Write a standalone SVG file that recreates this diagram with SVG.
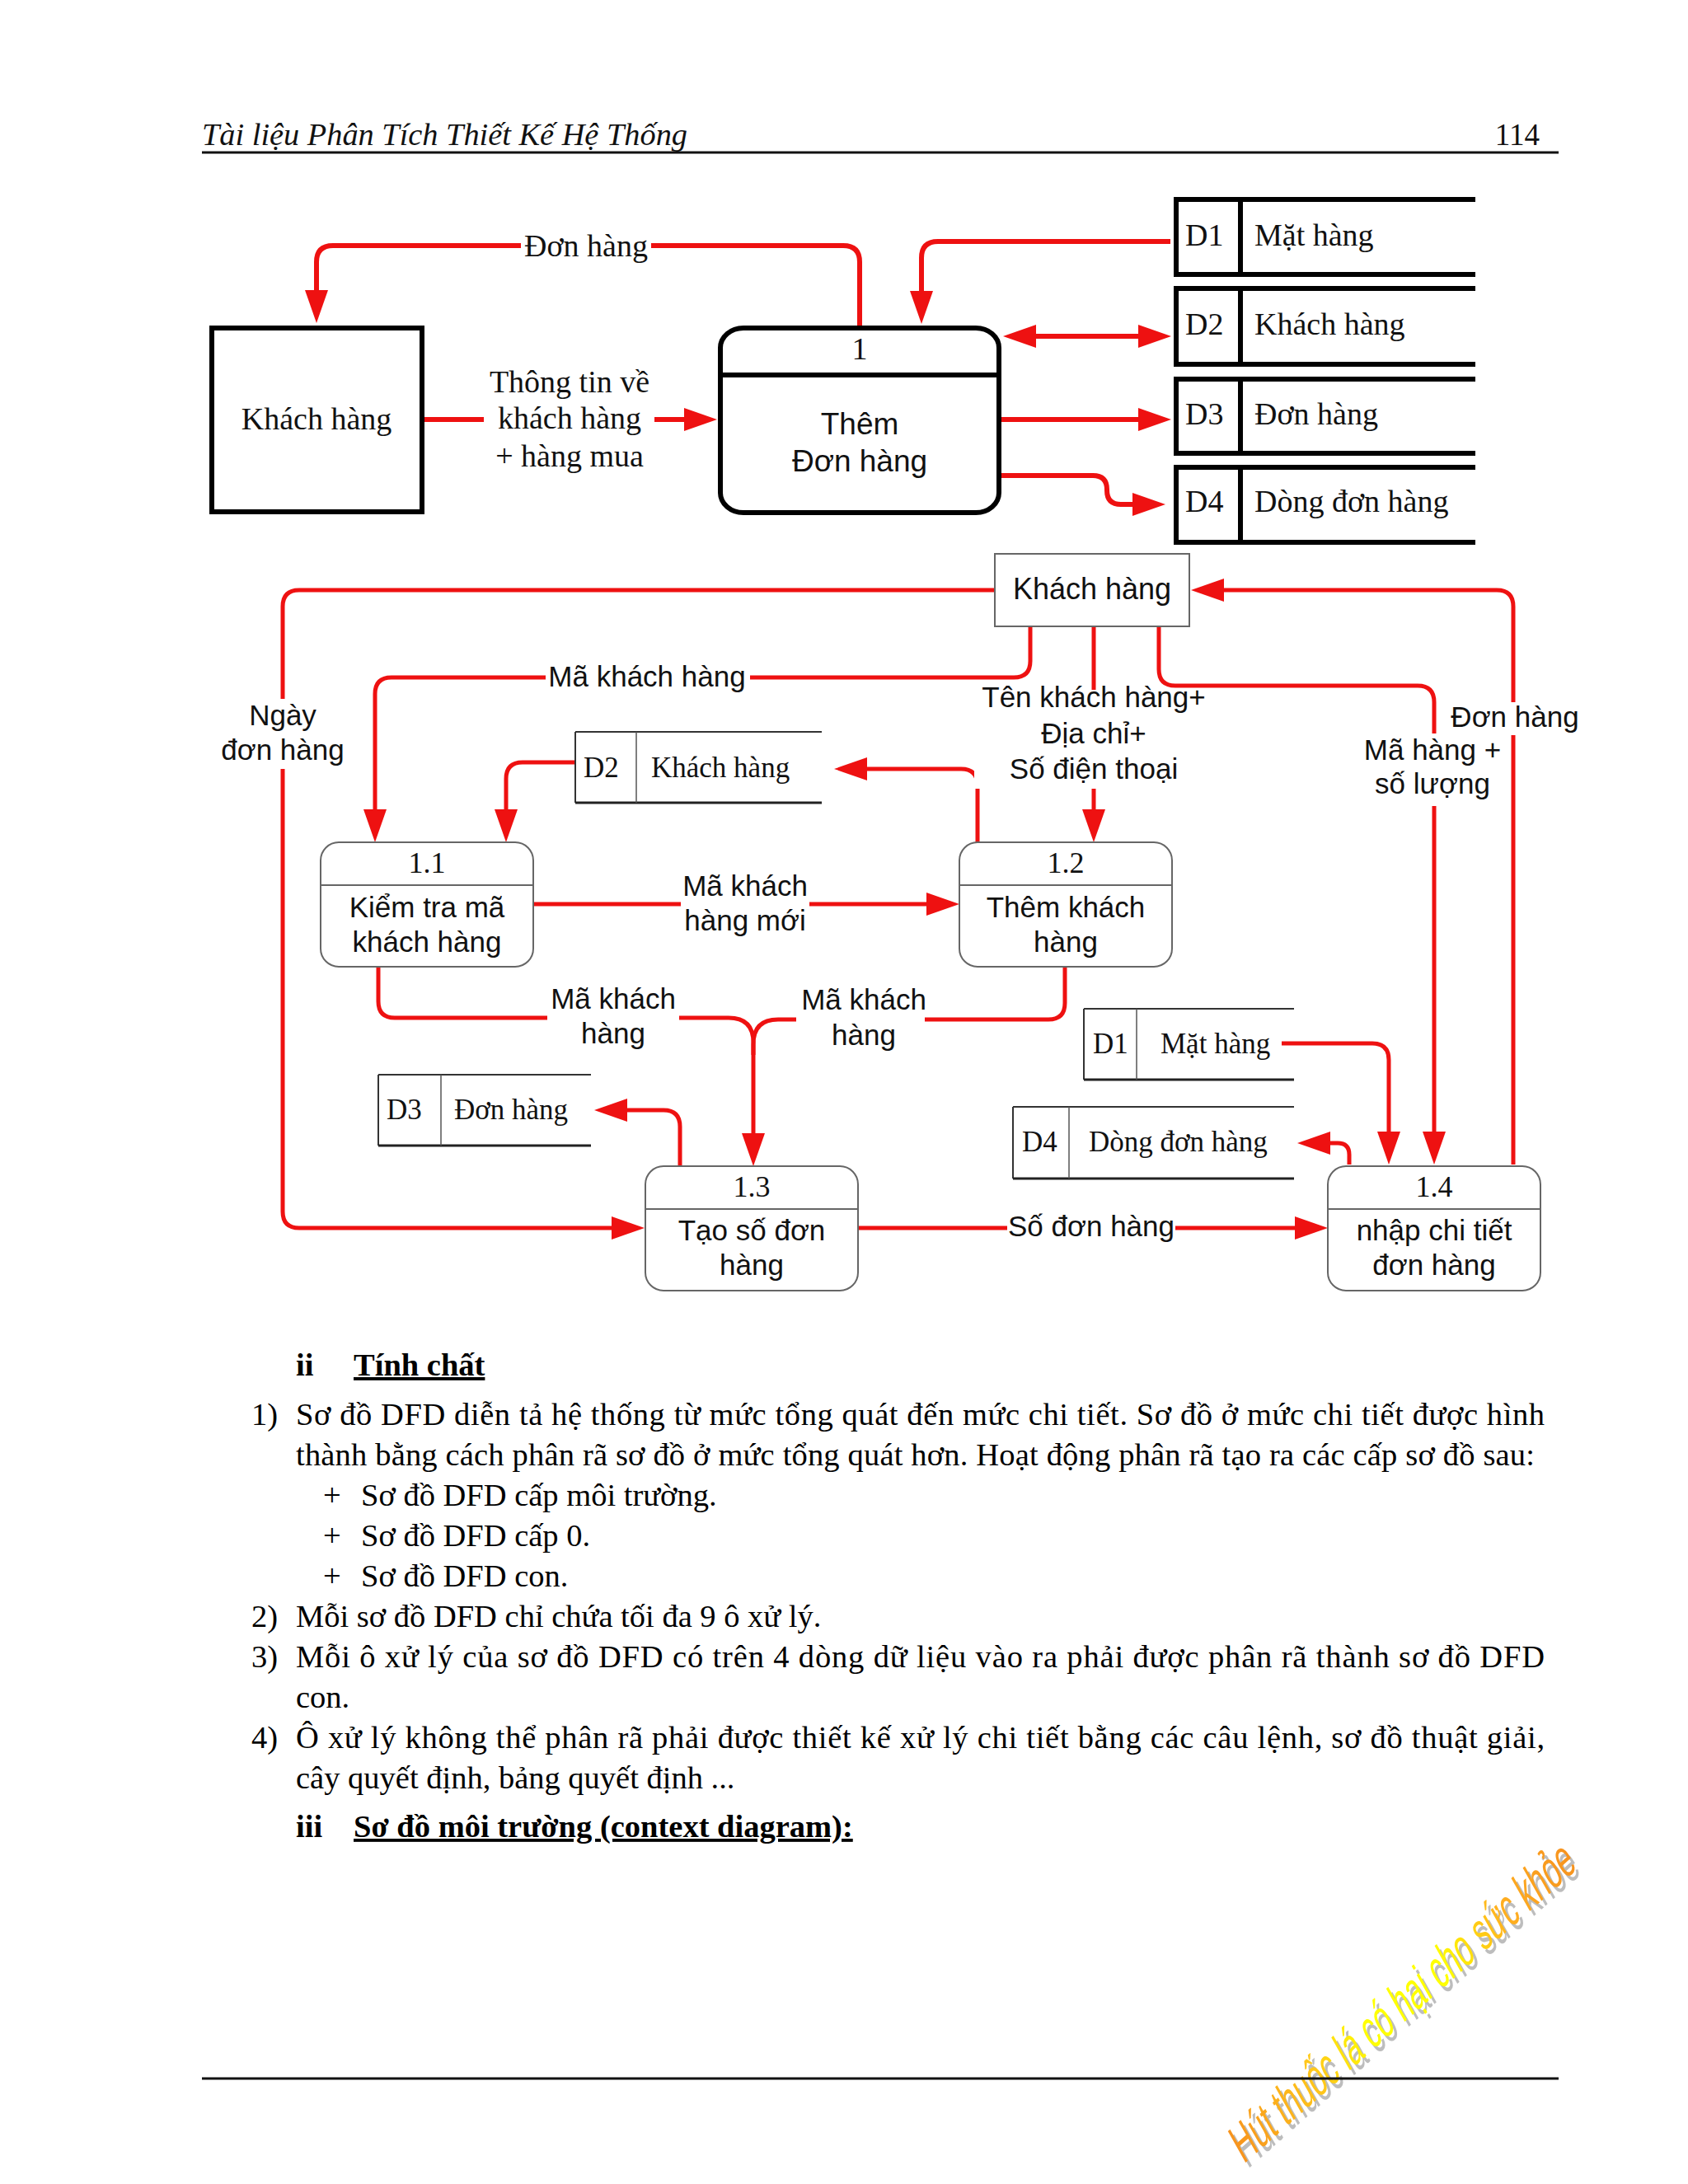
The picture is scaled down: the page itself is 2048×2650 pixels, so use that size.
<svg xmlns="http://www.w3.org/2000/svg" width="2048" height="2650" viewBox="0 0 2048 2650">
<defs>
<style>
.serif{font-family:'Liberation Serif','Times New Roman',serif;fill:#111}
.sans{font-family:'Liberation Sans',Arial,sans-serif;fill:#111}
.t38{font-size:38px}
.s36{font-size:35px}
.c{text-anchor:middle}
.flow{fill:none;stroke:#ee1111;stroke-width:5}
.flowT{fill:none;stroke:#ee1111;stroke-width:6}
.arr{marker-end:url(#ah)}
.blk{fill:none;stroke:#000;stroke-width:6}
.proc{fill:#fff;stroke:#666;stroke-width:2}
.thin{fill:none;stroke:#333;stroke-width:2}
.thick{fill:none;stroke:#222;stroke-width:3}
.gap{fill:#fff}
.body{font-family:'Liberation Serif','Times New Roman',serif;font-size:38.5px;fill:#000}
.wmt{font-family:'Liberation Sans',Arial,sans-serif;font-size:62px}
</style>
<marker id="ah" markerUnits="userSpaceOnUse" markerWidth="40" markerHeight="28" refX="30" refY="14" orient="auto-start-reverse">
<path d="M0,0 L40,14 L0,28 z" fill="#ee1111"/>
</marker>
<linearGradient id="wm" gradientUnits="userSpaceOnUse" x1="0" y1="0" x2="900" y2="0">
<stop offset="0" stop-color="#f7931e"/>
<stop offset="0.25" stop-color="#ffc81a"/>
<stop offset="0.4" stop-color="#ffff00"/>
<stop offset="0.62" stop-color="#ffff00"/>
<stop offset="0.8" stop-color="#ffb020"/>
<stop offset="1" stop-color="#f7931e"/>
</linearGradient>
</defs>
<rect width="2048" height="2650" fill="#fff"/>

<!-- header -->
<g id="header">
<text class="serif" x="245" y="176" font-size="37" font-style="italic" textLength="589" lengthAdjust="spacingAndGlyphs">Tài liệu Phân Tích Thiết Kế Hệ Thống</text>
<text class="serif" x="1868" y="176" font-size="37" text-anchor="end">114</text>
<line x1="245" y1="185" x2="1891" y2="185" stroke="#111" stroke-width="3"/>
</g>

<!-- ===== Top diagram ===== -->
<g id="connectors-top">
<path class="flowT arr" d="M1043,398 V318 Q1043,298 1023,298 H404 Q384,298 384,318 V382"/>
<path class="flowT arr" d="M1420,293 H1138 Q1118,293 1118,313 V383"/>
<path class="flowT arr" d="M1227,408 H1411" marker-start="url(#ah)"/>
<path class="flowT arr" d="M515,509 H860"/>
<path class="flowT arr" d="M1215,509 H1411"/>
<path class="flowT arr" d="M1214,577 H1326 Q1343,577 1343,594 V595 Q1343,612 1360,612 H1404"/>
<rect class="gap" x="632" y="280" width="158" height="42"/>
<text class="serif t38 c" x="711" y="311">Đơn hàng</text>
<rect class="gap" x="587" y="488" width="207" height="42"/>
<text class="serif t38 c" x="691" y="476">Thông tin về</text>
<text class="serif t38 c" x="691" y="520">khách hàng</text>
<text class="serif t38 c" x="691" y="566">+ hàng mua</text>
</g>

<g id="ext-khachhang-top">
<rect x="257" y="398" width="255" height="223" fill="none" stroke="#000" stroke-width="6"/>
<text class="serif t38 c" x="384" y="521">Khách hàng</text>
</g>

<g id="proc-1">
<rect x="874" y="398" width="338" height="224" rx="28" ry="24" fill="none" stroke="#000" stroke-width="6"/>
<line x1="874" y1="455" x2="1212" y2="455" stroke="#000" stroke-width="6"/>
<text class="serif t38 c" x="1043" y="436">1</text>
<text class="sans c" font-size="37" x="1043" y="527">Thêm</text>
<text class="sans c" font-size="37" x="1043" y="572">Đơn hàng</text>
</g>

<g id="store-D1-top">
<path class="blk" d="M1424,242 H1790 M1424,333 H1790 M1427,242 V333 M1505,242 V333"/>
<text class="serif t38" x="1438" y="298">D1</text>
<text class="serif t38" x="1522" y="298">Mặt hàng</text>
</g>
<g id="store-D2-top">
<path class="blk" d="M1424,350 H1790 M1424,442 H1790 M1427,350 V442 M1505,350 V442"/>
<text class="serif t38" x="1438" y="406">D2</text>
<text class="serif t38" x="1522" y="406">Khách hàng</text>
</g>
<g id="store-D3-top">
<path class="blk" d="M1424,460 H1790 M1424,550 H1790 M1427,460 V550 M1505,460 V550"/>
<text class="serif t38" x="1438" y="515">D3</text>
<text class="serif t38" x="1522" y="515">Đơn hàng</text>
</g>
<g id="store-D4-top">
<path class="blk" d="M1424,567 H1790 M1424,658 H1790 M1427,567 V658 M1505,567 V658"/>
<text class="serif t38" x="1438" y="621">D4</text>
<text class="serif t38" x="1522" y="621">Dòng đơn hàng</text>
</g>

<!-- ===== Lower diagram ===== -->
<g id="connectors-lower">
<path class="flow arr" d="M1207,716 H363 Q343,716 343,736 V1470 Q343,1490 363,1490 H772"/>
<path class="flow arr" d="M1250,760 V802 Q1250,822 1230,822 H475 Q455,822 455,842 V1012"/>
<path class="flow arr" d="M1327,760 V1012"/>
<path class="flow arr" d="M1406,760 V812 Q1406,832 1426,832 H1720 Q1740,832 1740,852 V1403"/>
<path class="flow arr" d="M1836,1413 V736 Q1836,716 1816,716 H1455"/>
<path class="flow arr" d="M698,925 H634 Q614,925 614,945 V1012"/>
<path class="flow arr" d="M1186,1022 V953 Q1186,933 1166,933 H1022"/>
<path class="flow arr" d="M647,1097 H1154"/>
<path class="flow arr" d="M459,1173 V1215 Q459,1235 479,1235 H884 Q914,1235 914,1265 V1405"/>
<path class="flow" d="M1292,1173 V1217 Q1292,1237 1272,1237 H944 Q914,1237 914,1267 V1280"/>
<path class="flow arr" d="M825,1415 V1367 Q825,1347 805,1347 H731"/>
<path class="flow arr" d="M1555,1266 H1665 Q1685,1266 1685,1286 V1403"/>
<path class="flow arr" d="M1637,1413 V1401 Q1637,1387 1623,1387 H1584"/>
<path class="flow arr" d="M1041,1490 H1601"/>

<rect class="gap" x="261" y="848" width="164" height="85"/>
<text class="sans s36 c" x="343" y="880">Ngày</text>
<text class="sans s36 c" x="343" y="922">đơn hàng</text>

<rect class="gap" x="662" y="797" width="248" height="46"/>
<text class="sans s36 c" x="785" y="833">Mã khách hàng</text>

<rect class="gap" x="1182" y="837" width="290" height="120"/>
<text class="sans s36 c" x="1327" y="858">Tên khách hàng+</text>
<text class="sans s36 c" x="1327" y="902">Địa chỉ+</text>
<text class="sans s36 c" x="1327" y="945">Số điện thoại</text>

<rect class="gap" x="1652" y="890" width="172" height="88"/>
<text class="sans s36 c" x="1738" y="922">Mã hàng +</text>
<text class="sans s36 c" x="1738" y="963">số lượng</text>

<rect class="gap" x="1778" y="852" width="120" height="40"/>
<text class="sans s36 c" x="1838" y="882">Đơn hàng</text>

<rect class="gap" x="826" y="1058" width="156" height="82"/>
<text class="sans s36 c" x="904" y="1087">Mã khách</text>
<text class="sans s36 c" x="904" y="1129">hàng mới</text>

<rect class="gap" x="664" y="1198" width="160" height="82"/>
<text class="sans s36 c" x="744" y="1224">Mã khách</text>
<text class="sans s36 c" x="744" y="1266">hàng</text>

<rect class="gap" x="966" y="1198" width="156" height="82"/>
<text class="sans s36 c" x="1048" y="1225">Mã khách</text>
<text class="sans s36 c" x="1048" y="1268">hàng</text>

<rect class="gap" x="1222" y="1466" width="204" height="46"/>
<text class="sans s36 c" x="1324" y="1500">Số đơn hàng</text>
</g>

<g id="ext-khachhang-lower">
<rect x="1207" y="672" width="236" height="88" fill="#fff" stroke="#666" stroke-width="2"/>
<text class="sans c" font-size="36" x="1325" y="727">Khách hàng</text>
</g>

<g id="store-D2-lower">
<path class="thin" d="M698,888 H997 M698,888 V974"/>
<path class="thick" d="M698,974 H997"/>
<path d="M772,888 V974" stroke="#555" stroke-width="1.5"/>
<text class="serif" font-size="35" x="708" y="943">D2</text>
<text class="serif" font-size="35" x="790" y="943">Khách hàng</text>
</g>
<g id="store-D3-lower">
<path class="thin" d="M459,1304 H717 M459,1304 V1390"/>
<path class="thick" d="M459,1390 H717"/>
<path d="M535,1304 V1390" stroke="#555" stroke-width="1.5"/>
<text class="serif" font-size="35" x="469" y="1358">D3</text>
<text class="serif" font-size="35" x="551" y="1358">Đơn hàng</text>
</g>
<g id="store-D1-lower">
<path class="thin" d="M1315,1224 H1570 M1315,1224 V1310"/>
<path class="thick" d="M1315,1310 H1570"/>
<path d="M1379,1224 V1310" stroke="#555" stroke-width="1.5"/>
<text class="serif" font-size="35" x="1326" y="1278">D1</text>
<text class="serif" font-size="35" x="1408" y="1278">Mặt hàng</text>
</g>
<g id="store-D4-lower">
<path class="thin" d="M1229,1343 H1570 M1229,1343 V1430"/>
<path class="thick" d="M1229,1430 H1570"/>
<path d="M1297,1343 V1430" stroke="#555" stroke-width="1.5"/>
<text class="serif" font-size="35" x="1240" y="1397">D4</text>
<text class="serif" font-size="35" x="1321" y="1397">Dòng đơn hàng</text>
</g>

<g id="proc-1-1">
<rect class="proc" x="389" y="1022" width="258" height="151" rx="22"/>
<line x1="389" y1="1074" x2="647" y2="1074" stroke="#666" stroke-width="2"/>
<text class="serif c" font-size="36" x="518" y="1059">1.1</text>
<text class="sans s36 c" x="518" y="1113">Kiểm tra mã</text>
<text class="sans s36 c" x="518" y="1155">khách hàng</text>
</g>
<g id="proc-1-2">
<rect class="proc" x="1164" y="1022" width="258" height="151" rx="22"/>
<line x1="1164" y1="1074" x2="1422" y2="1074" stroke="#666" stroke-width="2"/>
<text class="serif c" font-size="36" x="1293" y="1059">1.2</text>
<text class="sans s36 c" x="1293" y="1113">Thêm khách</text>
<text class="sans s36 c" x="1293" y="1155">hàng</text>
</g>
<g id="proc-1-3">
<rect class="proc" x="783" y="1415" width="258" height="151" rx="22"/>
<line x1="783" y1="1467" x2="1041" y2="1467" stroke="#666" stroke-width="2"/>
<text class="serif c" font-size="36" x="912" y="1452">1.3</text>
<text class="sans s36 c" x="912" y="1505">Tạo số đơn</text>
<text class="sans s36 c" x="912" y="1547">hàng</text>
</g>
<g id="proc-1-4">
<rect class="proc" x="1611" y="1415" width="258" height="151" rx="22"/>
<line x1="1611" y1="1467" x2="1869" y2="1467" stroke="#666" stroke-width="2"/>
<text class="serif c" font-size="36" x="1740" y="1452">1.4</text>
<text class="sans s36 c" x="1740" y="1505">nhập chi tiết</text>
<text class="sans s36 c" x="1740" y="1547">đơn hàng</text>
</g>

<!-- ===== Body text ===== -->
<g id="body-text">
<text class="body" x="359" y="1669" font-weight="bold">ii</text>
<text class="body" x="429" y="1669" font-weight="bold" text-decoration="underline">Tính chất</text>
<text class="body" x="305" y="1729">1)</text>
<text class="body" x="359" y="1729" textLength="1515" lengthAdjust="spacing">Sơ đồ DFD diễn tả hệ thống từ mức tổng quát đến mức chi tiết. Sơ đồ ở mức chi tiết được hình</text>
<text class="body" x="359" y="1778" textLength="1503" lengthAdjust="spacing">thành bằng cách phân rã sơ đồ ở mức tổng quát hơn. Hoạt động phân rã tạo ra các cấp sơ đồ sau:</text>
<text class="body" x="392" y="1827">+</text>
<text class="body" x="438" y="1827">Sơ đồ DFD cấp môi trường.</text>
<text class="body" x="392" y="1876">+</text>
<text class="body" x="438" y="1876">Sơ đồ DFD cấp 0.</text>
<text class="body" x="392" y="1925">+</text>
<text class="body" x="438" y="1925">Sơ đồ DFD con.</text>
<text class="body" x="305" y="1974">2)</text>
<text class="body" x="359" y="1974">Mỗi sơ đồ DFD chỉ chứa tối đa 9 ô xử lý.</text>
<text class="body" x="305" y="2023">3)</text>
<text class="body" x="359" y="2023" textLength="1515" lengthAdjust="spacing">Mỗi ô xử lý của sơ đồ DFD có trên 4 dòng dữ liệu vào ra phải được phân rã thành sơ đồ DFD</text>
<text class="body" x="359" y="2072">con.</text>
<text class="body" x="305" y="2121">4)</text>
<text class="body" x="359" y="2121" textLength="1515" lengthAdjust="spacing">Ô xử lý không thể phân rã phải được thiết kế xử lý chi tiết bằng các câu lệnh, sơ đồ thuật giải,</text>
<text class="body" x="359" y="2170">cây quyết định, bảng quyết định ...</text>
<text class="body" x="359" y="2229" font-weight="bold">iii</text>
<text class="body" x="429" y="2229" font-weight="bold" text-decoration="underline">Sơ đồ môi trường (context diagram):</text>
</g>

<!-- watermark -->
<g id="watermark">
<g transform="translate(1514,2632) rotate(-41.5) skewX(-12) scale(0.6,1)">
<text class="wmt" x="0" y="0" fill="#bdbdbd">Hút thuốc lá có hại cho sức khỏe</text>
</g>
<g transform="translate(1509,2626) rotate(-41.5) skewX(-12) scale(0.6,1)">
<text class="wmt" x="0" y="0" fill="url(#wm)">Hút thuốc lá có hại cho sức khỏe</text>
</g>
</g>

<g id="footer">
<line x1="245" y1="2522" x2="1891" y2="2522" stroke="#111" stroke-width="3"/>
</g>
</svg>
